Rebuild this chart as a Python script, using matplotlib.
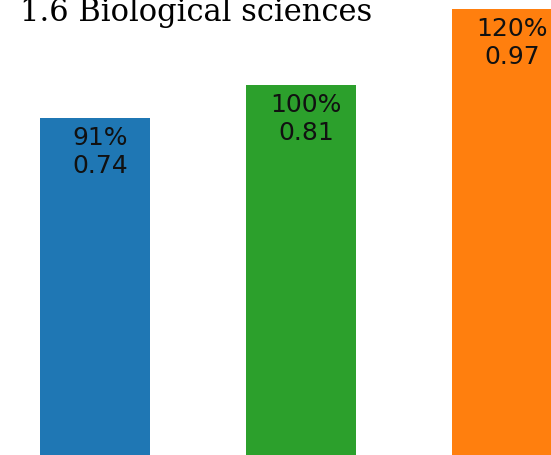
import numpy as np
import matplotlib
matplotlib.use("Agg")
import matplotlib.pyplot as plt

categories = ["A", "B", "C"]
values = [0.74, 0.81, 0.97]
percents = ["91%", "100%", "120%"]
colors = ["#1f77b4", "#2ca02c", "#ff7f0e"]
title = "1.6 Biological sciences"

fig = plt.figure(figsize=(5.51, 4.56), dpi=100)
ax = fig.add_axes([0, 0, 1, 1])
x = np.arange(len(values))
bars = ax.bar(x, values, width=0.53, color=colors)
ax.set_xlim(-0.461, 2.214)
ax.set_ylim(0.029, 0.991)
ax.axis("off")

for b, p, v in zip(bars, percents, values):
    ax.annotate(f"{p}\n{v:.2f}", (b.get_x() + b.get_width() / 2, v),
                xytext=(3.5, -5), textcoords="offset points",
                ha="center", va="top", fontsize=18, color="#111111")

fig.text(20 / 551, 1 - 21 / 456, title, family="DejaVu Serif",
         fontsize=22, ha="left", va="baseline")

fig.savefig("out.png", dpi=100)
